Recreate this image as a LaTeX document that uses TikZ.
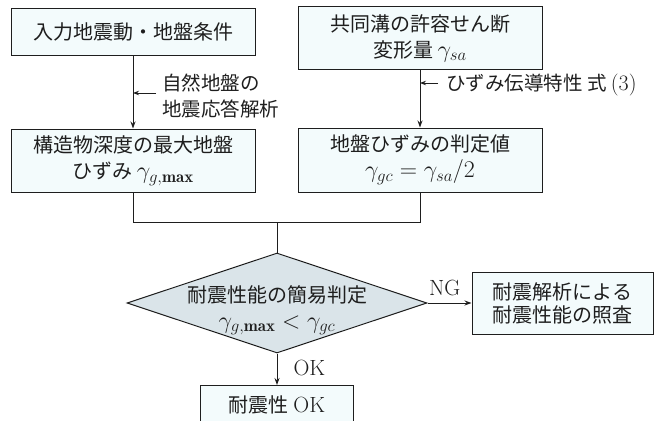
\RequirePackage{fix-cm}
\documentclass[tikz,border=0pt]{standalone}
\usepackage{fontspec}
\newfontfamily\jp{Noto Sans CJK JP}
\usetikzlibrary{shapes.geometric,arrows.meta}
\definecolor{boxfill}{HTML}{F3FBFC}
\definecolor{dfill}{HTML}{DAE4E9}
\definecolor{ink}{HTML}{1E1E1E}
\newcommand\fsz{\fontsize{20}{26}\selectfont}
\newcommand\asz{\fontsize{19.5}{26}\selectfont}
\newcommand\lat[1]{{\fontsize{22}{26}\selectfont\rmfamily #1}}
\newcommand\mth[1]{{\fontsize{24}{26}\selectfont$#1$}}
\begin{document}
\begin{tikzpicture}[x=1pt,y=-1pt,
  box/.style={draw=ink, line width=1pt, fill=boxfill, rectangle, inner sep=0pt, align=center, font=\fsz\jp, text=ink},
  conn/.style={draw=ink, line width=1pt},
  arr/.style={conn, -{Stealth[length=7pt,width=5pt]}},
  smallarr/.style={conn, -{Stealth[length=6pt,width=4.5pt]}},
  lbl/.style={inner sep=0pt, align=left, font=\asz\jp, text=ink},
  edgelbl/.style={inner sep=0pt, font=\fontsize{22}{26}\selectfont, text=ink}]
\useasboundingbox (0,0) rectangle (660,420);
% boxes
\node[box, minimum width=244pt, minimum height=46pt] (b1) at (133,32) {入力地震動・地盤条件};
\node[box, minimum width=244pt, minimum height=62pt] (b2) at (420,38) {共同溝の許容せん断\\変形量 \mth{\gamma_{sa}}};
\node[box, minimum width=244pt, minimum height=63pt] (b3) at (133,160.5) {構造物深度の最大地盤\\ひずみ \mth{\gamma_{g,\mathbf{max}}}};
\node[box, minimum width=244pt, minimum height=64pt] (b4) at (420,160) {地盤ひずみの判定値\\\mth{\gamma_{gc}=\gamma_{sa}/2}};
\node[diamond, draw=ink, fill=dfill, line width=1pt, minimum width=300pt, minimum height=100pt, inner sep=0pt] (dm) at (277,303) {};
\node[inner sep=0pt, align=center, font=\fsz\jp, text=ink] (dt) at (277,310) {耐震性能の簡易判定\\\mth{\gamma_{g,\mathbf{max}} < \gamma_{gc}}};
\node[box, minimum width=181pt, minimum height=62pt, font=\fontsize{20}{23}\selectfont\jp] (b5) at (562.5,303) {耐震解析による\\耐震性能の照査};
\node[box, minimum width=153pt, minimum height=40pt, anchor=north] (b6) at (277,385) {\raisebox{2pt}{耐震性 \lat{OK}}};
% annotations
\node[lbl, anchor=west] (t1) at (162,96) {自然地盤の\\地震応答解析};
\node[lbl, anchor=west] (t2) at (446,85) {ひずみ伝導特性 式 \lat{(3)}};
\coordinate (a1) at (156,93);
\coordinate (a2) at (438,83);
% connectors
\draw[arr] (b1) -- (b3);
\draw[arr] (b2) -- (b4);
\draw[smallarr] (a1) -- (a1 -| b1.south);
\draw[smallarr] (a2) -- (a2 -| b2.south);
\coordinate (m) at (277,222);
\draw[conn] (b3.south) -- (b3.south |- m) -- (b4.south |- m) -- (b4.south);
\draw[conn] (m) -- (dm.north);
\draw[arr] (dm.east) -- (b5.west) node[pos=0, anchor=south west, edgelbl, xshift=1pt, yshift=7pt] (ng) {NG};
\draw[arr] (dm.south) -- (b6.north) node[midway, anchor=west, edgelbl, xshift=16pt, yshift=1pt] (ok) {OK};
\end{tikzpicture}
\end{document}
